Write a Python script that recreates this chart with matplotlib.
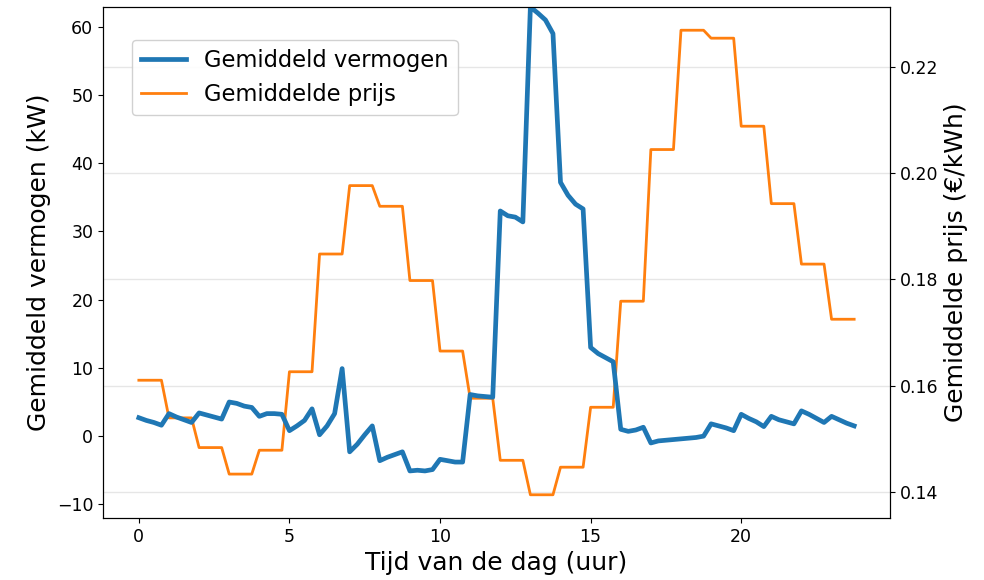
import numpy as np
import matplotlib
matplotlib.use("Agg")
import matplotlib.pyplot as plt

# quarter-hour time axis (hours)
hours = np.arange(96) * 0.25

# average power (kW) per quarter hour
power = [
    2.7, 2.3, 2.0, 1.6,
    3.3, 2.8, 2.4, 2.0,
    3.4, 3.1, 2.8, 2.5,
    5.0, 4.8, 4.4, 4.2,
    2.9, 3.3, 3.3, 3.2,
    0.8, 1.5, 2.3, 4.0,
    0.2, 1.5, 3.3, 9.9,
    -2.3, -1.2, 0.2, 1.5,
    -3.6, -3.1, -2.7, -2.3,
    -5.1, -5.0, -5.1, -4.9,
    -3.4, -3.6, -3.8, -3.8,
    6.1, 5.9, 5.8, 5.7,
    33.0, 32.3, 32.1, 31.4,
    62.9, 62.0, 61.0, 59.0,
    37.2, 35.3, 34.0, 33.3,
    13.0, 12.1, 11.5, 10.9,
    1.0, 0.7, 0.9, 1.3,
    -1.0, -0.7, -0.6, -0.5,
    -0.4, -0.3, -0.2, 0.0,
    1.8, 1.5, 1.2, 0.8,
    3.2, 2.6, 2.1, 1.4,
    2.9, 2.4, 2.1, 1.8,
    3.7, 3.2, 2.6, 2.0,
    2.9, 2.4, 1.9, 1.5,
]

# hourly average price (EUR/kWh)
hourly_price = [
    0.1610, 0.1539, 0.1483, 0.1433, 0.1478, 0.1626,
    0.1848, 0.1977, 0.1938, 0.1798, 0.1665, 0.1576,
    0.1459, 0.1394, 0.1446, 0.1559, 0.1759, 0.2045,
    0.2270, 0.2255, 0.2089, 0.1943, 0.1829, 0.1725,
]
price = np.repeat(hourly_price, 4)

fig = plt.figure(figsize=(9.84, 5.8), dpi=100)
ax = fig.add_axes([103 / 984, 1 - 518 / 580, (890 - 103) / 984, (518 - 7) / 580])
ax2 = ax.twinx()

l1, = ax.plot(hours, power, color="#1f77b4", lw=3.4, label="Gemiddeld vermogen")
l2, = ax2.plot(hours, price, color="#ff7f0e", lw=2.0, label="Gemiddelde prijs")

ax.set_ylim(-12.0, 62.9)
ax.set_xlim(-1.19, 24.94)
ax.set_xticks([0, 5, 10, 15, 20])
ax.set_yticks([-10, 0, 10, 20, 30, 40, 50, 60])
ax2.set_yticks([0.14, 0.16, 0.18, 0.20, 0.22])
ax2.set_yticklabels(["0.14", "0.16", "0.18", "0.20", "0.22"])

ax2.grid(True, axis="y", color="#e6e6e6", lw=1.0)
ax.set_zorder(ax2.get_zorder() + 1)
ax.patch.set_visible(False)

ax.tick_params(labelsize=12.5)
ax2.tick_params(labelsize=12.5)

ax.set_xlabel("Tijd van de dag (uur)", fontsize=18)
ax.set_ylabel("Gemiddeld vermogen (kW)", fontsize=18)
ax2.set_ylabel("Gemiddelde prijs (€/kWh)", fontsize=18)

leg = ax.legend(handles=[l1, l2], loc="upper left", fontsize=16.3,
                bbox_to_anchor=(0.022, 0.958), framealpha=0.9)

fig.savefig("out.png", dpi=100)
